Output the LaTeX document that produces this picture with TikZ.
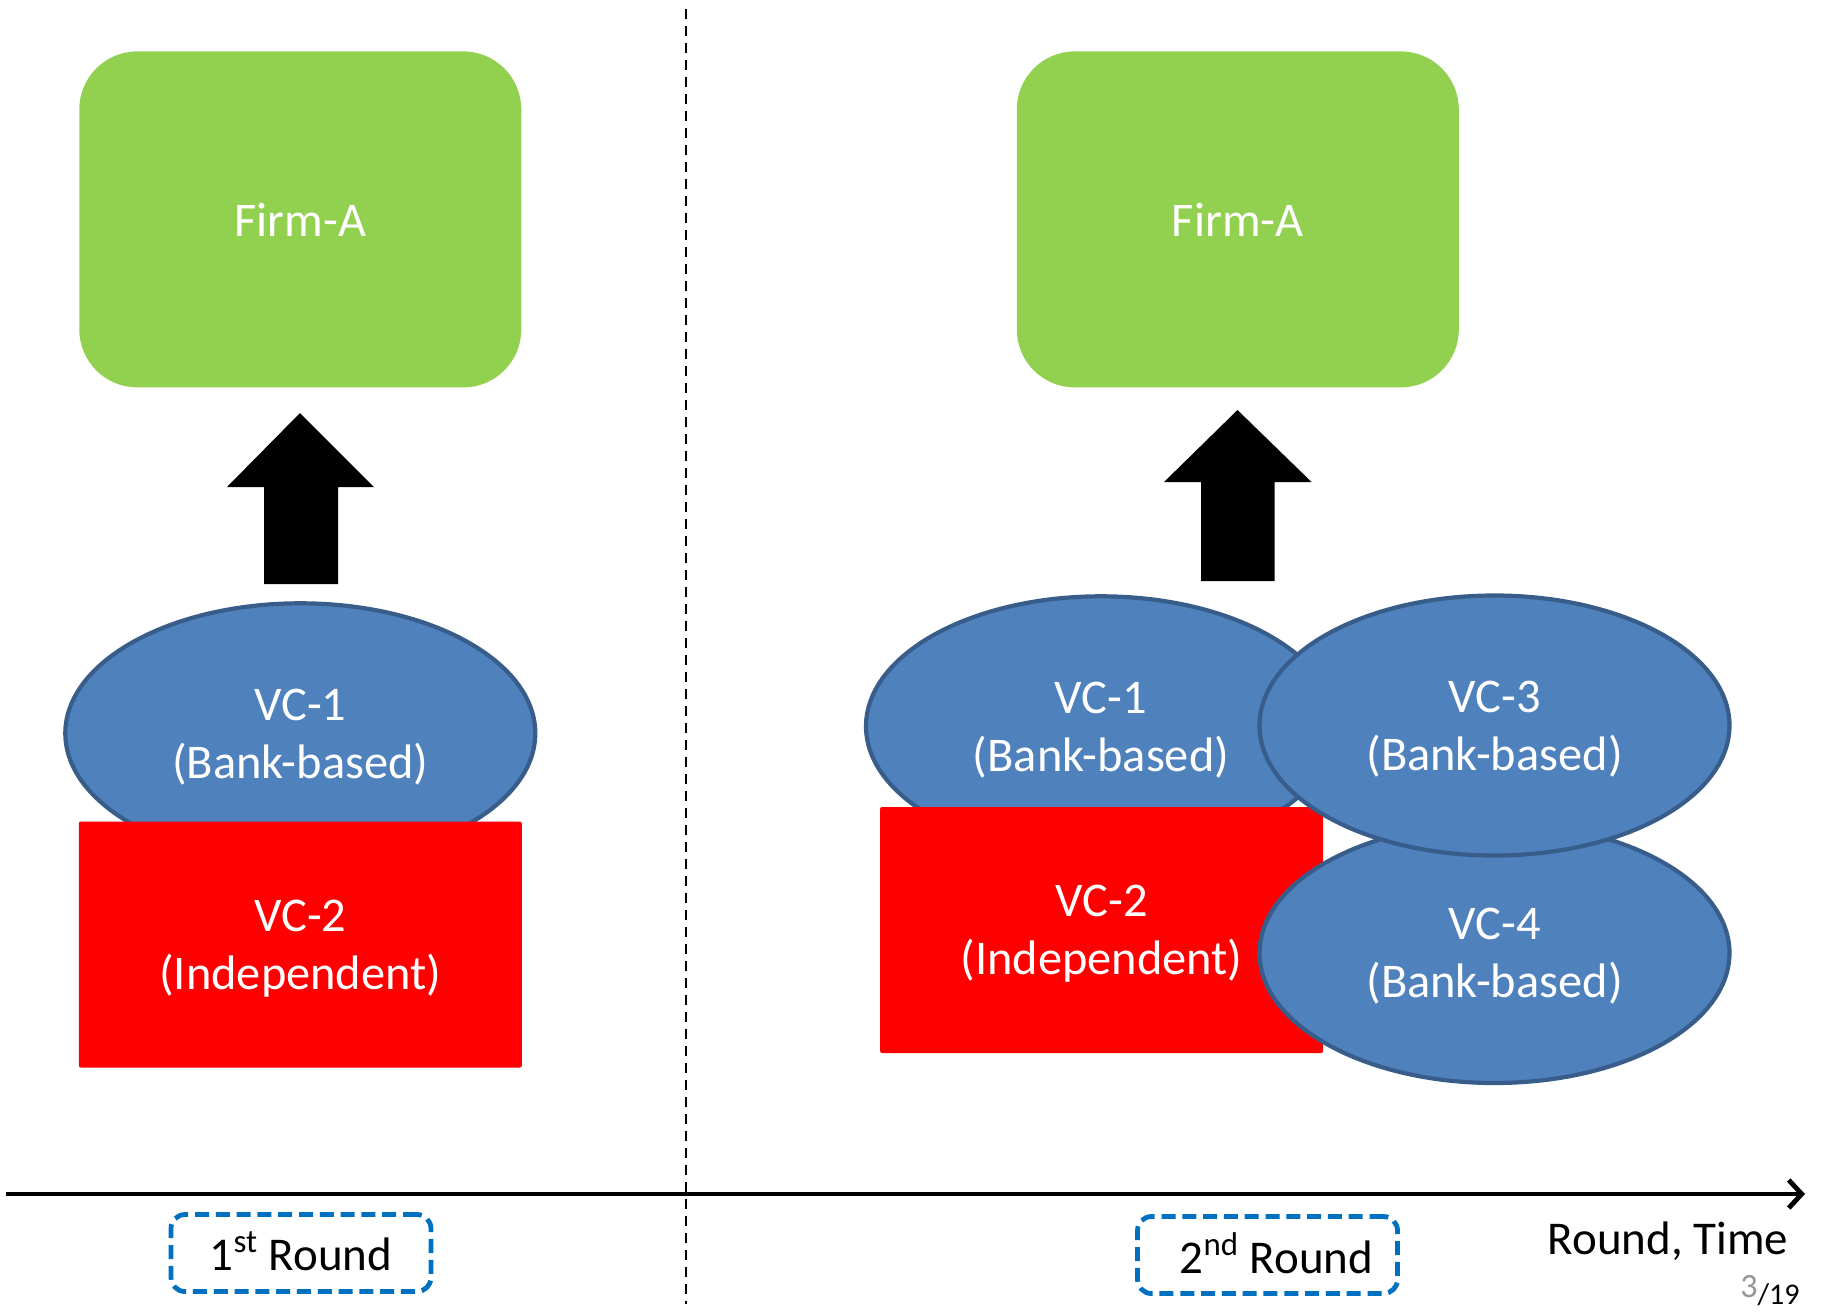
\documentclass[tikz,border=0pt]{standalone}
\usepackage{fontspec}
\setmainfont{Carlito}
\usetikzlibrary{arrows.meta,shapes.geometric}
\definecolor{firmgreen}{RGB}{146,208,80}
\definecolor{vcblue}{RGB}{79,129,189}
\definecolor{vcedge}{RGB}{56,93,138}
\definecolor{roundblue}{RGB}{0,112,192}
\definecolor{pagegray}{RGB}{150,150,150}

\begin{document}
\begin{tikzpicture}[x=0.5pt,y=-0.5pt,
  lbl/.style={text=white, font=\fontsize{24.2}{29}\selectfont, align=center, text depth=0pt},
  firm/.style={lbl, fill=firmgreen, rounded corners=29pt, minimum width=221pt, minimum height=168pt, inner sep=0pt},
  bankvc/.style={lbl, ellipse, draw=vcedge, line width=2.1pt, fill=vcblue, minimum width=235pt, minimum height=130pt, inner sep=0pt},
  indvc/.style={lbl, fill=red, rounded corners=1pt, minimum width=221.5pt, minimum height=123pt, inner sep=0pt},
  roundbox/.style={draw=roundblue, line width=2.4pt, dash pattern=on 7pt off 3.4pt, rounded corners=7pt, minimum width=130pt, minimum height=38.5pt, inner sep=0pt, font=\fontsize{23.5}{28.5}\selectfont},
  blockarrow/.style={fill=black},
  timeaxis/.style={line width=2.4pt, -{Straight Barb[length=6.5pt,width=14pt]}},
  divider/.style={line width=0.8pt, dash pattern=on 5pt off 3.5pt}
]
\useasboundingbox (0,0) rectangle (1825,1312);

% divider between the two rounds
\coordinate (divtop) at (686,9);
\coordinate (divbot) at (686,1304);
\draw[divider] (divtop) -- (divbot);

% ---- first round ----
\node[firm] (firmL) at (300.3,219.4) {Firm-A};
\fill[blockarrow] (300,413) -- (374,487) -- (338,487) -- (338,584) -- (264,584) -- (264,487) -- (227,487) -- cycle;
\node[bankvc] (vc1L) at (300.3,733.3) {VC-1\\(Bank-based)};
\node[indvc] (vc2L) at (300.3,944.5) {VC-2\\(Independent)};

% ---- second round ----
\node[firm] (firmR) at (1237.8,219.4) {Firm-A};
\fill[blockarrow] (1237.5,410) -- (1311.5,482) -- (1274.5,482) -- (1274.5,581) -- (1201,581) -- (1201,482) -- (1164,482) -- cycle;
\node[bankvc] (vc1R) at (1101,726.3) {VC-1\\(Bank-based)};
\node[indvc] (vc2R) at (1101.6,930) {VC-2\\(Independent)};
\node[bankvc] (vc4R) at (1494.5,953) {VC-4\\(Bank-based)};
\node[bankvc] (vc3R) at (1494.5,725.5) {VC-3\\(Bank-based)};

% ---- time axis ----
\coordinate (axstart) at (6,1194);
\coordinate (axend) at (1805,1194);
\draw[timeaxis] (axstart) -- (axend);

\node[roundbox] (r1) at (301,1253) {\raisebox{1.5pt}{1\textsuperscript{st} Round}};
\node[roundbox] (r2) at (1267.5,1255) {\hspace*{9pt}\raisebox{2pt}{2\textsuperscript{nd} Round}};

\node[font=\fontsize{23.5}{28.5}\selectfont] (axlabel) at (1668,1241) {Round, Time};
\node[font=\fontsize{15}{18}\selectfont, anchor=south east, inner sep=0pt] (pageno) at (1800,1306) {\raisebox{3.5pt}{\textcolor{pagegray}{\fontsize{17}{18}\selectfont 3}}/19};
\end{tikzpicture}
\end{document}
